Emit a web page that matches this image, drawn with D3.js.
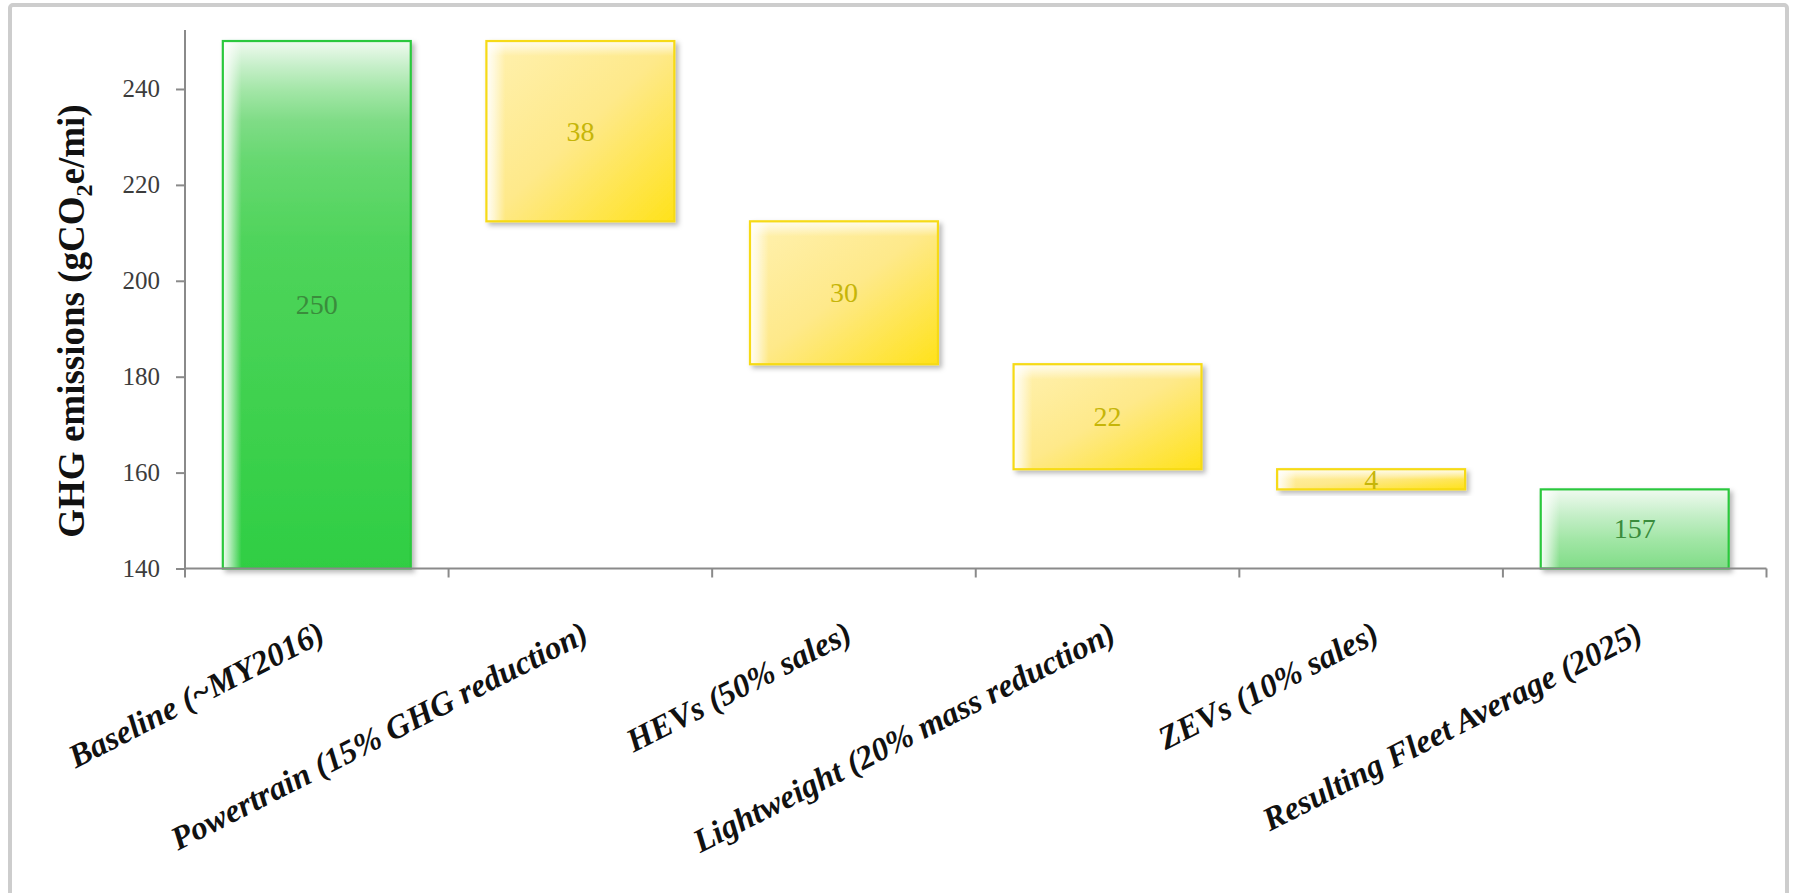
<!DOCTYPE html>
<html>
<head>
<meta charset="utf-8">
<script src="https://cdn.jsdelivr.net/npm/d3@7/dist/d3.min.js"></script>
<style>
  html, body { margin: 0; padding: 0; background: #ffffff; }
  svg { display: block; }
</style>
</head>
<body>
<svg id="chart" width="1795" height="893"></svg>
<script>
// ---------- data ----------
const categories = [
  "Baseline (~MY2016)",
  "Powertrain (15% GHG reduction)",
  "HEVs (50% sales)",
  "Lightweight (20% mass reduction)",
  "ZEVs (10% sales)",
  "Resulting Fleet Average (2025)"
];
const stepValues = [250, 37.6, 29.8, 21.9, 4.2, 156.5];
const stepTypes  = ["total", "decrease", "decrease", "decrease", "decrease", "total"];
const yTicks = [140, 160, 180, 200, 220, 240];
const yGrid  = [150, 160, 170, 180, 190, 200, 210, 220, 230, 240, 250];
const yTitle = "GHG emissions (gCO";

// ---------- layout ----------
const W = 1795, H = 893;
const svg = d3.select("#chart");
const defs = svg.append("defs");

const x = d3.scaleBand().domain(categories).range([185, 1766.5])
  .paddingInner(0.287).paddingOuter(0.1435);
const y = d3.scaleLinear().domain([140, 252.3]).range([568.5, 30]);

// waterfall computation
let running = 0;
const bars = categories.map((c, i) => {
  const v = stepValues[i];
  let lo, hi;
  if (stepTypes[i] === "total") { lo = 140; hi = v; running = v; }
  else { hi = running; lo = running - v; running = lo; }
  return { cat: c, lo, hi, v, type: stepTypes[i], i };
});

// frame
svg.append("rect").attr("x", 10).attr("y", 5).attr("width", W - 18).attr("height", H + 10)
  .attr("rx", 3).attr("fill", "none").attr("stroke", "#cdcdcd").attr("stroke-width", 4);

// filters
const sh = defs.append("filter").attr("id", "shadow").attr("x", "-10%").attr("y", "-10%")
  .attr("width", "130%").attr("height", "140%");
sh.append("feDropShadow").attr("dx", 3).attr("dy", 3).attr("stdDeviation", 2.5)
  .attr("flood-color", "#000").attr("flood-opacity", 0.28);
const gsh = defs.append("filter").attr("id", "gshadow").attr("x", "-1%").attr("y", "-200%")
  .attr("width", "102%").attr("height", "500%");
gsh.append("feDropShadow").attr("dx", 0).attr("dy", 1.5).attr("stdDeviation", 0.8)
  .attr("flood-color", "#000").attr("flood-opacity", 0.12);

// gradients
const yellowG = defs.append("linearGradient").attr("id", "yellowG")
  .attr("x1", 0).attr("y1", 0).attr("x2", 1).attr("y2", 1);
yellowG.append("stop").attr("offset", "0%").attr("stop-color", "#fff1b0");
yellowG.append("stop").attr("offset", "50%").attr("stop-color", "#fee98a");
yellowG.append("stop").attr("offset", "100%").attr("stop-color", "#ffe21a");

const leftHi = defs.append("linearGradient").attr("id", "leftHi")
  .attr("x1", 0).attr("y1", 0).attr("x2", 1).attr("y2", 0);
leftHi.append("stop").attr("offset", "0%").attr("stop-color", "#fff").attr("stop-opacity", 0.95);
leftHi.append("stop").attr("offset", "4%").attr("stop-color", "#fff").attr("stop-opacity", 0.6);
leftHi.append("stop").attr("offset", "10%").attr("stop-color", "#fff").attr("stop-opacity", 0);

const topHi = defs.append("linearGradient").attr("id", "topHi")
  .attr("x1", 0).attr("y1", 0).attr("x2", 0).attr("y2", 1);
topHi.append("stop").attr("offset", "0%").attr("stop-color", "#fff").attr("stop-opacity", 0.85);
topHi.append("stop").attr("offset", "100%").attr("stop-color", "#fff").attr("stop-opacity", 0);

bars.filter(b => b.type === "total").forEach(b => {
  const top = y(b.hi);
  const g = defs.append("linearGradient").attr("id", "greenG" + b.i)
    .attr("gradientUnits", "userSpaceOnUse")
    .attr("x1", 0).attr("x2", 0).attr("y1", top).attr("y2", top + 530);
  [[0, "#f0faf0"], [25, "#c6efc9"], [50, "#a2e6a6"], [80, "#7fdc86"],
   [120, "#66d870"], [200, "#4fd45b"], [530, "#2fce43"]].forEach(([px, c]) =>
    g.append("stop").attr("offset", (px / 530 * 100) + "%").attr("stop-color", c));
});

// gridlines
svg.append("g").selectAll("line").data(yGrid).join("line")
  .attr("x1", 186).attr("x2", 1766.5)
  .attr("y1", d => y(d)).attr("y2", d => y(d))
  .attr("stroke", "#d8d8d8").attr("stroke-width", 2).attr("filter", "url(#gshadow)");

// bars
const bw = x.bandwidth();
const barG = svg.append("g");
bars.forEach(b => {
  const x0 = x(b.cat), y0 = y(b.hi), h = y(b.lo) - y(b.hi);
  const g = barG.append("g").attr("filter", "url(#shadow)");
  const fill = b.type === "total" ? `url(#greenG${b.i})` : "url(#yellowG)";
  g.append("rect").attr("x", x0).attr("y", y0).attr("width", bw).attr("height", h).attr("fill", fill);
  g.append("rect").attr("x", x0).attr("y", y0).attr("width", bw).attr("height", h).attr("fill", "url(#leftHi)");
  if (b.type !== "total") {
    g.append("rect").attr("x", x0).attr("y", y0).attr("width", bw).attr("height", Math.min(h * 0.5, 15))
      .attr("fill", "url(#topHi)");
  }
  g.append("rect").attr("x", x0).attr("y", y0).attr("width", bw).attr("height", h)
    .attr("fill", "none")
    .attr("stroke", b.type === "total" ? "#2cc83d" : "#f6da12")
    .attr("stroke-width", 2.2);
});

// value labels
svg.append("g").selectAll("text").data(bars).join("text")
  .attr("x", b => x(b.cat) + bw / 2)
  .attr("y", b => (y(b.hi) + y(b.lo)) / 2)
  .attr("text-anchor", "middle").attr("dominant-baseline", "central")
  .attr("font-family", "'Liberation Serif', 'Times New Roman', serif")
  .attr("font-size", 28)
  .attr("fill", b => b.type === "total" ? "#3a8c3c" : "#c6b508")
  .text(b => Math.round(b.v));

// y axis
const yAxis = d3.axisLeft(y).tickValues(yTicks).tickSize(9).tickPadding(16).tickFormat(d3.format("d"));
const yg = svg.append("g").attr("transform", "translate(185,0)").call(yAxis);
yg.select(".domain").attr("stroke", "#8a8a8a").attr("stroke-width", 2)
  .attr("d", `M0,${y(252.3)}V${y(140)}`);
yg.selectAll(".tick line").attr("stroke", "#8a8a8a").attr("stroke-width", 2);
yg.selectAll(".tick text")
  .attr("font-family", "'Liberation Serif', 'Times New Roman', serif")
  .attr("font-size", 25).attr("fill", "#3c3c3c");

// x axis
const xAxis = d3.axisBottom(x).tickSize(0).tickFormat("");
const xg = svg.append("g").attr("transform", `translate(0,${y(140)})`).call(xAxis);
xg.select(".domain").attr("stroke", "#8a8a8a").attr("stroke-width", 2)
  .attr("d", `M${x.range()[0]},0H${x.range()[1]}`);
const step = x.step();
const bounds = categories.map(c => x(c) - step * x.paddingInner() / 2)
  .concat([x(categories[categories.length - 1]) + bw + step * x.paddingInner() / 2]);
xg.selectAll("line.bt").data(bounds).join("line").attr("class", "bt")
  .attr("x1", d => d).attr("x2", d => d).attr("y1", 0).attr("y2", 9)
  .attr("stroke", "#8a8a8a").attr("stroke-width", 2);

// x labels
svg.append("g").selectAll("text").data(categories).join("text")
  .attr("transform", c => `translate(${x(c) + bw / 2 + 10},${y(140) + 72}) rotate(-27)`)
  .attr("text-anchor", "end")
  .attr("font-family", "'Liberation Serif', 'Times New Roman', serif")
  .attr("font-size", 33).attr("font-weight", "bold").attr("font-style", "italic")
  .attr("fill", "#111")
  .text(c => c);

// y title
const t = svg.append("text")
  .attr("transform", "translate(84,321) rotate(-90)")
  .attr("text-anchor", "middle")
  .attr("font-family", "'Liberation Serif', 'Times New Roman', serif")
  .attr("font-size", 37).attr("font-weight", "bold").attr("fill", "#111");
t.append("tspan").text(yTitle);
t.append("tspan").attr("font-size", 24).attr("dy", 8).text("2");
t.append("tspan").attr("dy", -8).text("e/mi)");
</script>
</body>
</html>
